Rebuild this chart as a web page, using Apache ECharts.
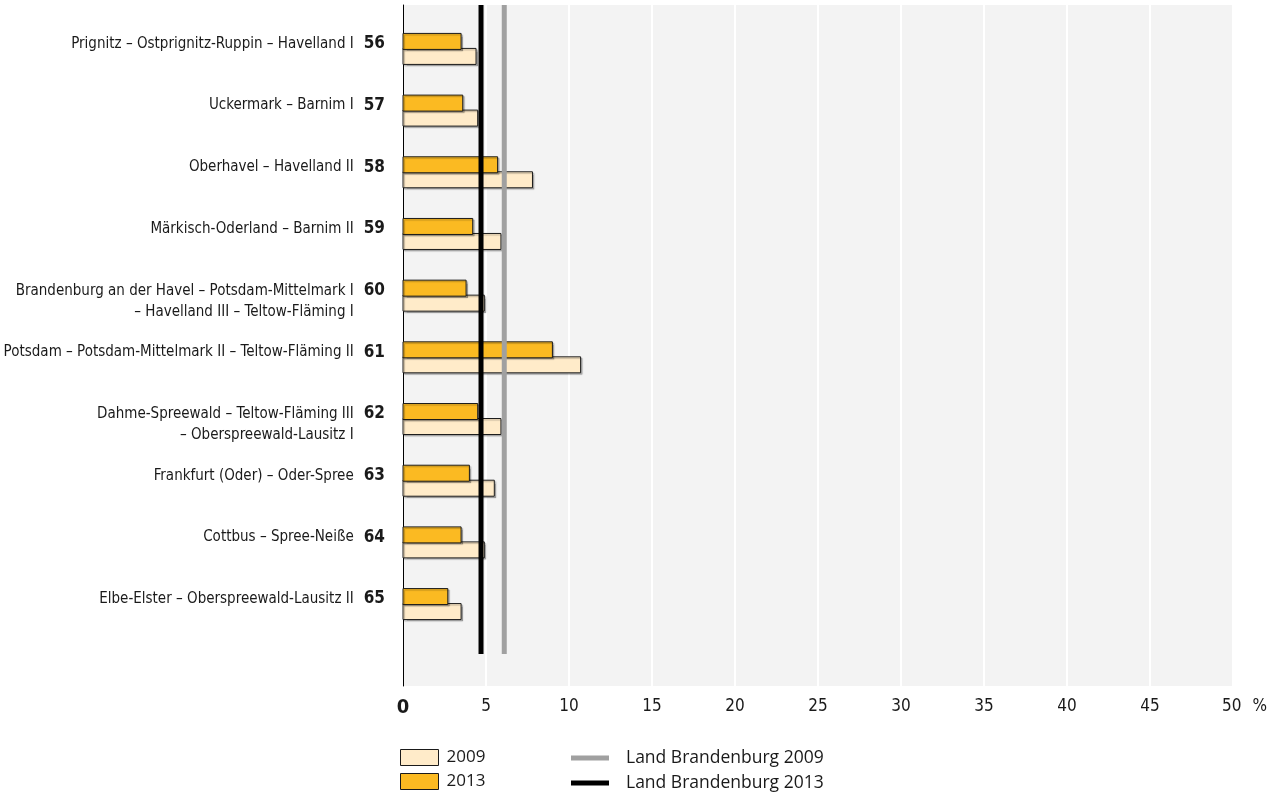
<!DOCTYPE html>
<html>
<head>
<meta charset="utf-8">
<script src="https://cdn.jsdelivr.net/npm/echarts@6/dist/echarts.min.js"></script>
<style>
  html, body { margin: 0; padding: 0; background: #fff; }
  #chart { width: 1278px; height: 794px; }
</style>
</head>
<body>
<div id="chart"></div>
<script>
// Wahlkreise 56 - 65
const numbers = ['56', '57', '58', '59', '60', '61', '62', '63', '64', '65']
const districts = [
  'Prignitz – Ostprignitz-Ruppin – Havelland I',
  'Uckermark – Barnim I',
  'Oberhavel – Havelland II',
  'Märkisch-Oderland – Barnim II',
  'Brandenburg an der Havel – Potsdam-Mittelmark I\n– Havelland III – Teltow-Fläming I',
  'Potsdam – Potsdam-Mittelmark II – Teltow-Fläming II',
  'Dahme-Spreewald – Teltow-Fläming III\n– Oberspreewald-Lausitz I',
  'Frankfurt (Oder) – Oder-Spree',
  'Cottbus – Spree-Neiße',
  'Elbe-Elster – Oberspreewald-Lausitz II'
]
const values2009 = [4.4, 4.5, 7.8, 5.9, 4.9, 10.7, 5.9, 5.5, 4.9, 3.5]
const values2013 = [3.5, 3.6, 5.7, 4.2, 3.8, 9.0, 4.5, 4.0, 3.5, 2.7]
const land2009 = [6.1]
const land2013 = [4.7]

const narrow = '"Liberation Sans Narrow", "DejaVu Sans Condensed", sans-serif'
const plain = '"Open Sans", "Noto Sans", sans-serif'
const textColor = '#1a1a1a'
const yMin = -0.72
const yMax = 10.32
const lineEnd = 9.8
const labelShift = -0.26

const barStyle = (fill) => ({
  fill: fill,
  stroke: '#1a1a1a',
  lineWidth: 1,
  shadowColor: 'rgba(0,0,0,0.25)',
  shadowOffsetX: 1.5,
  shadowOffsetY: 1.5,
  shadowBlur: 1
})

const barRender = (offset, fill) => (params, api) => {
  let start = api.coord([0, api.value(1)])
  let end = api.coord([api.value(0), api.value(1)])
  return {
    type: 'rect',
    shape: { x: start[0], y: start[1] + offset, width: end[0] - start[0], height: 16 },
    style: barStyle(fill)
  }
}

const refRender = (color) => (params, api) => {
  let p0 = api.coord([api.value(0), yMin])
  let p1 = api.coord([api.value(0), lineEnd])
  return {
    type: 'line',
    shape: { x1: p0[0], y1: p0[1], x2: p1[0], y2: p1[1] },
    style: { stroke: color, lineWidth: 5 }
  }
}

const yLabel = (value) => {
  let i = Math.round(value - labelShift)
  if (i < 0 || i >= districts.length) return ''
  let lines = districts[i].split('\n')
  return lines.map((line, k) => {
    let tail = k === 0 ? '{n|' + numbers[i] + '}' : '{h|' + numbers[i] + '}'
    return '{t|' + line + '}{g| }' + tail
  }).join('\n')
}

// x labels: bold 0, "%" after the last tick
const xLabel = (v) => {
  if (v === 0) return '{z|0}'
  if (v === 50) return '{s| }50{p|%}'
  return String(v)
}

const chart = echarts.init(document.getElementById('chart'))
const option = {
  animation: false,
  grid: {
    left: 403, right: 45, top: 5, bottom: 108,
    show: true, backgroundColor: '#f3f3f3', borderWidth: 0
  },
  legend: [{
    orient: 'vertical',
    left: 400, top: 749,
    padding: 0,
    itemWidth: 38, itemHeight: 16, itemGap: 7,
    icon: 'rect',
    textStyle: { fontFamily: plain, fontSize: 17, color: textColor, lineHeight: 16, padding: [0, 0, 0, 3] },
    data: [
      { name: '2009', itemStyle: { color: '#ffebc9', borderColor: '#1a1a1a', borderWidth: 1 } },
      { name: '2013', itemStyle: { color: '#fbba22', borderColor: '#1a1a1a', borderWidth: 1 } }
    ]
  }, {
    orient: 'vertical',
    left: 571, top: 749,
    padding: 0,
    itemWidth: 38, itemHeight: 5, itemGap: 7,
    icon: 'rect',
    textStyle: { fontFamily: plain, fontSize: 17.5, color: textColor, lineHeight: 16, padding: [0, 0, 0, 12] },
    data: [
      { name: 'Land Brandenburg 2009', itemStyle: { color: '#a0a0a0', borderWidth: 0 } },
      { name: 'Land Brandenburg 2013', itemStyle: { color: '#000000', borderWidth: 0 } }
    ]
  }],
  xAxis: {
    type: 'value',
    min: 0, max: 50, interval: 5,
    axisLine: { show: false },
    axisTick: { show: false },
    splitLine: { show: true, lineStyle: { color: '#ffffff', width: 2 } },
    axisLabel: {
      margin: 12,
      fontFamily: narrow, fontSize: 17, color: textColor,
      formatter: xLabel,
      rich: {
        z: { fontFamily: narrow, fontSize: 20, fontWeight: 'bold', color: textColor },
        s: { width: 23 },
        p: { fontFamily: narrow, fontSize: 17, color: textColor, padding: [0, 0, 0, 11] }
      }
    }
  },
  yAxis: {
    type: 'value',
    inverse: true,
    min: yMin, max: yMax,
    axisLine: { show: true, lineStyle: { color: '#000', width: 1 } },
    axisTick: { show: false },
    splitLine: { show: false },
    axisLabel: {
      customValues: numbers.map((n, i) => i + labelShift),
      margin: 18,
      verticalAlign: 'top',
      align: 'right',
      formatter: yLabel,
      rich: {
        t: { fontFamily: narrow, fontSize: 15, color: textColor, lineHeight: 21 },
        g: { width: 10, lineHeight: 21 },
        n: { fontFamily: narrow, fontSize: 17, fontWeight: 'bold', color: textColor, lineHeight: 21 },
        h: { fontFamily: narrow, fontSize: 17, fontWeight: 'bold', color: 'rgba(0,0,0,0)', lineHeight: 21 }
      }
    }
  },
  series: [{
    name: '2009',
    type: 'custom',
    itemStyle: { color: '#ffebc9' },
    encode: { x: 0, y: 1 },
    data: values2009.map((v, i) => [v, i]),
    renderItem: barRender(-1, '#ffebc9'),
    z: 2
  }, {
    name: '2013',
    type: 'custom',
    itemStyle: { color: '#fbba22' },
    encode: { x: 0, y: 1 },
    data: values2013.map((v, i) => [v, i]),
    renderItem: barRender(-16, '#fbba22'),
    z: 3
  }, {
    name: 'Land Brandenburg 2009',
    type: 'custom',
    itemStyle: { color: '#a0a0a0' },
    encode: { x: 0 },
    data: land2009.map(v => [v]),
    renderItem: refRender('#a0a0a0'),
    z: 4
  }, {
    name: 'Land Brandenburg 2013',
    type: 'custom',
    itemStyle: { color: '#000000' },
    encode: { x: 0 },
    data: land2013.map(v => [v]),
    renderItem: refRender('#000000'),
    z: 5
  }]
}
chart.setOption(option)
</script>
</body>
</html>
